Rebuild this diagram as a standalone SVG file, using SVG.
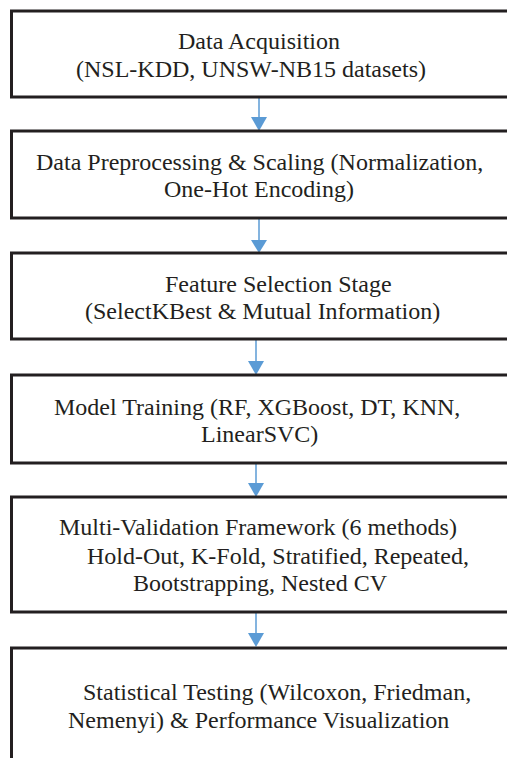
<svg xmlns="http://www.w3.org/2000/svg" width="507" height="758" viewBox="0 0 507 758">
<style>
.box{fill:#ffffff;stroke:#231f20;stroke-width:3}
.t{font-family:"Liberation Serif","Times New Roman",serif;font-size:24px;fill:#231f20}
.c{stroke:#5b9bd5;stroke-width:1.5;fill:none}
.h{fill:#5b9bd5}
</style>
<rect width="507" height="758" fill="#ffffff"/>
<g id="connectors">
<line class="c" x1="259" y1="98" x2="259" y2="118"/><polygon class="h" points="251,117 267,117 259,131"/>
<line class="c" x1="259" y1="219" x2="259" y2="241"/><polygon class="h" points="251,240 267,240 259,253"/>
<line class="c" x1="256" y1="340" x2="256" y2="362"/><polygon class="h" points="248,361 264,361 256,375"/>
<line class="c" x1="256" y1="464" x2="256" y2="484"/><polygon class="h" points="248,483 264,483 256,497"/>
<line class="c" x1="256" y1="613" x2="256" y2="634"/><polygon class="h" points="248,633 264,633 256,647"/>
</g>
<g id="n1"><rect class="box" x="11.5" y="11" width="520" height="86"/>
<text class="t" x="178" y="49">Data Acquisition</text>
<text class="t" x="76" y="77">(NSL-KDD, UNSW-NB15 datasets)</text></g>
<g id="n2"><rect class="box" x="11.5" y="131" width="520" height="87"/>
<text class="t" x="36" y="170">Data Preprocessing &amp; Scaling (Normalization,</text>
<text class="t" x="164" y="197">One-Hot Encoding)</text></g>
<g id="n3"><rect class="box" x="11.5" y="253" width="520" height="86"/>
<text class="t" x="165" y="292">Feature Selection Stage</text>
<text class="t" x="85" y="319">(SelectKBest &amp; Mutual Information)</text></g>
<g id="n4"><rect class="box" x="11.5" y="375" width="520" height="88"/>
<text class="t" x="54" y="415">Model Training (RF, XGBoost, DT, KNN,</text>
<text class="t" x="201" y="442">LinearSVC)</text></g>
<g id="n5"><rect class="box" x="11.5" y="497" width="520" height="115"/>
<text class="t" x="59" y="535">Multi-Validation Framework (6 methods)</text>
<text class="t" x="87" y="564">Hold-Out, K-Fold, Stratified, Repeated,</text>
<text class="t" x="133" y="591">Bootstrapping, Nested CV</text></g>
<g id="n6"><rect class="box" x="11.5" y="648" width="520" height="130"/>
<text class="t" x="83" y="700">Statistical Testing (Wilcoxon, Friedman,</text>
<text class="t" x="68" y="728">Nemenyi) &amp; Performance Visualization</text></g>
</svg>
